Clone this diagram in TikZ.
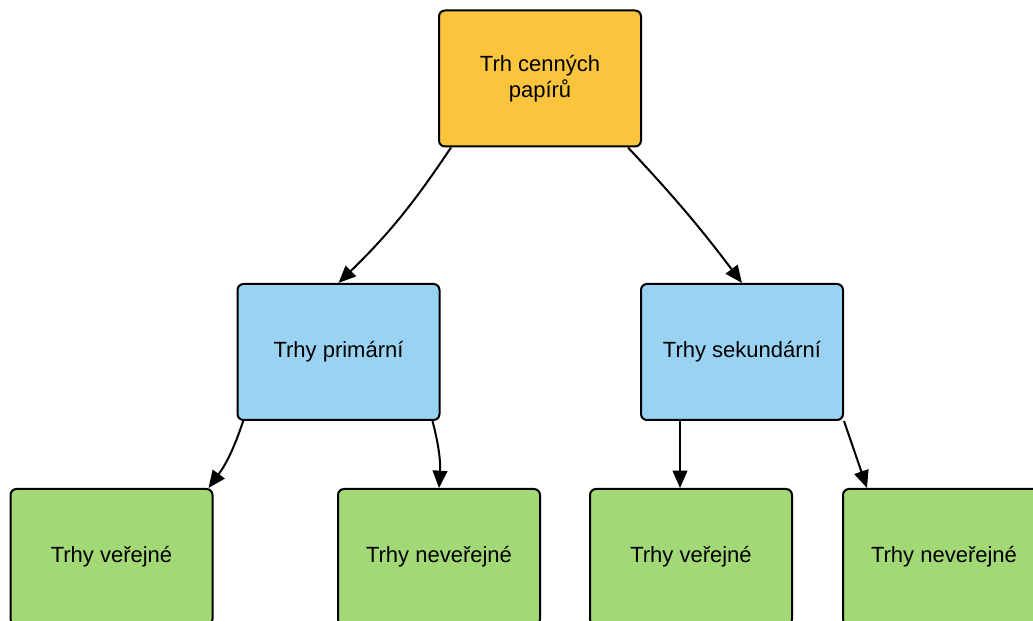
\documentclass[tikz,border=0pt]{standalone}
\usepackage{fontspec}
\setmainfont{Liberation Sans}
\usepackage{tikz}
\usetikzlibrary{shapes,arrows.meta,positioning,calc}
\usepackage{xcolor}
\definecolor{trhorange}{RGB}{250,196,60}
\definecolor{trhblue}{RGB}{154,210,242}
\definecolor{trhgreen}{RGB}{163,216,118}

\begin{document}
\begin{tikzpicture}[x=0.75pt,y=0.75pt,
  box/.style={draw=black,line width=1.5pt,rounded corners=4.5pt,align=center,
    minimum width=151.5pt,minimum height=102pt,inner sep=0pt,
    font=\fontsize{16.5}{19.5}\selectfont},
  arr/.style={line width=1.5pt,-{Triangle[length=13pt,width=11pt]}}]
\useasboundingbox (0,0) rectangle (1033,621);
\node[box,fill=trhorange] (trh) at (540,542.5){Trh cenných\\papírů};
\node[box,fill=trhblue] (prim) at (338.5,269){Trhy primární};
\node[box,fill=trhblue] (sek) at (742,269){Trhy sekundární};
\node[box,fill=trhgreen] (verP) at (111.5,64){Trhy veřejné};
\node[box,fill=trhgreen] (neverP) at (439,64){Trhy neveřejné};
\node[box,fill=trhgreen] (verS) at (691,64){Trhy veřejné};
\node[box,fill=trhgreen] (neverS) at (944,64){Trhy neveřejné};
\draw[arr] ([xshift=9.75pt]trh.south west) to[bend left=6] (prim.north);
\draw[arr] ([xshift=-10.5pt]trh.south east) to[bend left=3] (sek.north);
\draw[arr] ([xshift=5pt]prim.south west) to[bend left=9] ([xshift=-3.75pt]verP.north east);
\draw[arr] ([xshift=-6pt]prim.south east) to[bend left=9] (neverP.north);
\draw[arr] ([xshift=30pt]sek.south west) -- ([xshift=68.25pt]verS.north west);
\draw[arr] (sek.south east) -- ([xshift=18.75pt]neverS.north west);
\end{tikzpicture}
\end{document}
